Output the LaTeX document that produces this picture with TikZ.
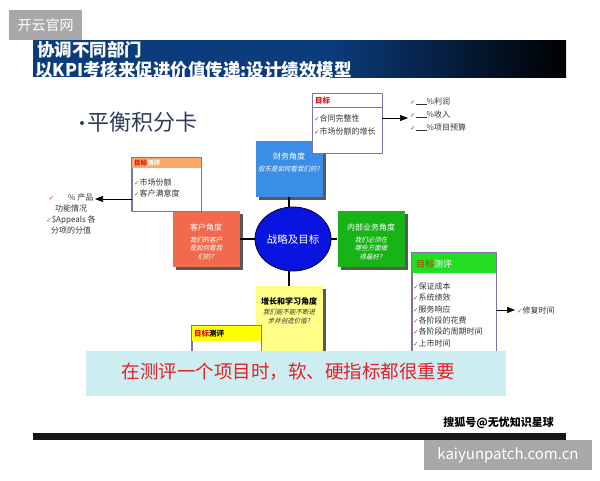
\documentclass[tikz,border=0pt]{standalone}
\usepackage{fontspec}
\setmainfont{Noto Sans CJK SC}[ItalicFont={Noto Sans CJK SC}, ItalicFeatures={FakeSlant=0.22}]
\newfontfamily\tickfont{DejaVu Sans}
\usetikzlibrary{positioning,shadows,shapes.geometric,arrows.meta,calc}

\definecolor{titleblue}{HTML}{0B3C7C}
\definecolor{markgray}{HTML}{A8A8A8}
\definecolor{slate}{HTML}{2E3D58}
\definecolor{finblue}{HTML}{3A8EE6}
\definecolor{custred}{HTML}{F26A4C}
\definecolor{intgreen}{HTML}{17B317}
\definecolor{growyellow}{HTML}{FFFF88}
\definecolor{coreblue}{HTML}{0A14E0}
\definecolor{framegray}{HTML}{7A72A8}
\definecolor{headorange}{HTML}{F8AA66}
\definecolor{headgreen}{HTML}{22DD22}
\definecolor{headyellow}{HTML}{FFFF00}
\definecolor{checkred}{HTML}{C0304A}
\definecolor{goalred}{HTML}{E01010}
\definecolor{goalbrown}{HTML}{B83C00}
\definecolor{bannercyan}{HTML}{CCEEF0}
\definecolor{bannerred}{HTML}{E4202A}
\definecolor{itemgray}{HTML}{333333}
\definecolor{barblack}{HTML}{161616}

\newcommand{\okmark}{{\tickfont\color{checkred}\fontsize{6.5}{8}\selectfont ✓}}
\newcommand{\blank}{\rule[-0.5pt]{11pt}{0.4pt}}

\tikzset{
  quad/.style={rectangle, minimum width=67pt, minimum height=56pt, inner sep=0pt,
    drop shadow={shadow xshift=3pt, shadow yshift=-3pt, fill=black!65, opacity=1}},
  qtitle/.style={font=\fontsize{8}{9}\selectfont, text=white, inner sep=0pt},
  qnote/.style={font=\itshape\fontsize{6.5}{8.5}\selectfont, text=white, align=center, inner sep=0pt},
  goalframe/.style={rectangle, draw=framegray, fill=white, line width=0.6pt, inner sep=0pt},
  goalhead/.style={font=\bfseries\fontsize{7.5}{8}\selectfont, anchor=west, inner sep=0pt},
  item/.style={font=\fontsize{8}{10.7}\selectfont, text=itemgray, anchor=west, inner sep=0pt},
  link/.style={line width=1.5pt},
  pointer/.style={line width=0.7pt, -{Triangle[length=8pt,width=6pt]}},
  titletext/.style={font=\bfseries\fontsize{17.5}{18}\selectfont, text=white, anchor=west, inner sep=0pt}
}

\begin{document}
\begin{tikzpicture}[x=1pt, y=-1pt, line join=round]
    \useasboundingbox (0,0) rectangle (600,480);

    % 水印（左上）
    \fill[markgray] (9,10) rectangle (82,40);
    \node[font=\fontsize{14}{14}\selectfont, text=white] (markTop) at (45.5,25) {开云官网};

    % 标题栏
    \fill[titleblue] (33,40) rectangle (330,77);
    \shade[left color=titleblue, right color=black] (330,40) rectangle (566,77);
    \node[titletext] (title1) at (37,49.5) {协调不同部门};
    \node[titletext] (title2) at (35,69.5) {以KPI考核来促进价值传递:设计绩效模型};

    % 小标题
    \fill[slate] (82,123) circle (2pt);
    \node[font=\fontsize{22}{22}\selectfont, text=slate, anchor=west, inner sep=0pt] (bsc) at (87,122) {平衡积分卡};

    % 四个角度
    \node[quad, fill=finblue] (fin) at (289,169) {};
    \node[qtitle, below=12pt of fin.north] (finT) {财务角度};
    \node[qnote, below=5pt of finT] (finN) {股东是如何看我们的?};

    \node[quad, fill=custred] (cust) at (206,239) {};
    \node[qtitle, below=13pt of cust.north] (custT) {客户角度};
    \node[qnote, below=5pt of custT] (custN) {我们的客户\\是如何看我\\们的?};

    \node[quad, fill=intgreen] (intl) at (371,239) {};
    \node[qtitle, below=13pt of intl.north] (intlT) {内部业务角度};
    \node[qnote, below=5pt of intlT] (intlN) {我们必须在\\哪些方面做\\得最好?};

    \node[quad, fill=growyellow, minimum height=66pt] (grow) at (289,319) {};
    \node[qtitle, text=black, font=\bfseries\fontsize{8}{9}\selectfont, below=12pt of grow.north] (growT) {增长和学习角度};
    \node[qnote, text=itemgray, below=3pt of growT] (growN) {我们能不能不断进\\步并创造价值?};

    % 中心椭圆
    \node[ellipse, fill=coreblue, draw=black!80!blue, line width=0.8pt, minimum width=76pt, minimum height=64pt,
          inner sep=0pt, text=white, font=\fontsize{10.5}{11}\selectfont] (core) at (293,239) {战略及目标};

    % 连线
    \draw[link] (fin.south) -- (fin.south |- core.north);
    \draw[link] (core.west) -- (cust.east);
    \draw[link] (core.east) -- (intl.west);
    \draw[link] (grow.north) -- (grow.north |- core.south);

    % 财务目标
    \node[goalframe, minimum width=70pt, minimum height=60pt] (goalFin) at (347,123) {};
    \draw[framegray, line width=0.6pt] ($(goalFin.north west)+(0,15)$) -- ($(goalFin.north east)+(0,15)$);
    \node[goalhead, text=goalred] (goalFinH) at (315,101) {目标};
    \node[item] (goalFin1) at (314,118) {\okmark 合同完整性};
    \node[item] (goalFin2) at (314,131) {\okmark 市场份额的增长};
    \coordinate (finTip) at (408,118);
    \draw[pointer] (goalFin.east |- finTip) -- (finTip);
    \node[item] (finRes1) at (410,101) {\okmark\blank\%利润};
    \node[item] (finRes2) at (410,114) {\okmark\blank\%收入};
    \node[item] (finRes3) at (410,127) {\okmark\blank\%项目预算};

    % 客户目标
    \node[goalframe, minimum width=69pt, minimum height=53pt] (goalCust) at (166.5,184.5) {};
    \fill[headorange] (goalCust.north west) rectangle ($(goalCust.north east)+(0,10)$);
    \draw[framegray, line width=0.6pt] (goalCust.north west) rectangle (goalCust.south east);
    \node[goalhead, font=\bfseries\fontsize{6.5}{7}\selectfont] (goalCustH) at (134,163) {\textcolor{goalred}{目标}\textcolor{white}{测评}};
    \node[item] (goalCust1) at (134,182) {\okmark 市场份额};
    \node[item] (goalCust2) at (134,193) {\okmark 客户满意度};
    \coordinate (custTip) at (95,199);
    \draw[pointer] (goalCust.west |- custTip) -- (custTip);
    \node[item, anchor=center, align=center] (custRes) at (71,214)
        {\okmark\hspace{14pt}\% 产品\\功能情况\\\okmark\$Appeals 各\\分项的分值};

    % 内部业务目标
    \node[goalframe, minimum width=84pt, minimum height=132pt] (goalIntl) at (454,319) {};
    \fill[headgreen] (goalIntl.north west) rectangle ($(goalIntl.north east)+(0,20)$);
    \draw[framegray, line width=0.6pt] (goalIntl.north west) rectangle (goalIntl.south east);
    \node[goalhead, font=\fontsize{9}{10}\selectfont] (goalIntlH) at (416,264) {\textcolor{goalbrown}{目标}\textcolor{white}{测评}};
    \node[item] (goalIntl1) at (413,286) {\okmark 保证成本};
    \node[item] (goalIntl2) at (413,297.5) {\okmark 系统绩效};
    \node[item] (goalIntl3) at (413,309) {\okmark 服务响应};
    \node[item] (goalIntl4) at (413,320) {\okmark 各阶段的花费};
    \node[item] (goalIntl5) at (413,331.5) {\okmark 各阶段的周期时间};
    \node[item] (goalIntl6) at (413,343) {\okmark 上市时间};
    \coordinate (intlTip) at (515,310);
    \draw[pointer] (goalIntl.east |- intlTip) -- (intlTip);
    \node[item] (intlRes) at (517,310) {\okmark 修复时间};

    % 学习目标
    \node[goalframe, minimum width=69pt, minimum height=59pt] (goalGrow) at (226.5,355.5) {};
    \fill[headyellow] (goalGrow.north west) rectangle ($(goalGrow.north east)+(0,15)$);
    \draw[framegray, line width=0.6pt] (goalGrow.north west) rectangle (goalGrow.south east);
    \node[goalhead] (goalGrowH) at (194,334) {\textcolor{goalred}{目标}\textcolor{black}{测评}};

    % 横幅
    \fill[bannercyan] (86,351) rectangle (506,396);
    \node[font=\fontsize{18.5}{19}\selectfont, text=bannerred] (banner) at (288,372) {在测评一个项目时，软、硬指标都很重要};

    % 页脚
    \node[font=\bfseries\fontsize{11}{11}\selectfont, anchor=east, inner sep=0pt] (source) at (554,423) {搜狐号@无忧知识星球};
    \fill[barblack] (33,433) rectangle (566,440);
    \fill[markgray] (424,440) rectangle (592,470);
    \node[font=\fontsize{15}{15}\selectfont, text=white] (markBot) at (508,455) {kaiyunpatch.com.cn};
\end{tikzpicture}
\end{document}
